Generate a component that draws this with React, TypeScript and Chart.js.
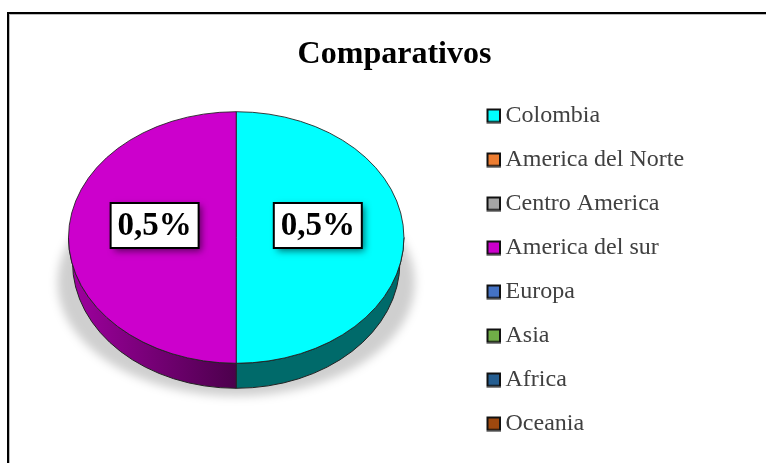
import React, { useEffect, useRef } from "react";
import { Chart, registerables } from "chart.js";

Chart.register(...registerables);

const titleText = "Comparativos";
const categories = ["Colombia", "America del Norte", "Centro America", "America del sur", "Europa", "Asia", "Africa", "Oceania"];
const shares = [0.5, 0, 0, 0.5, 0, 0, 0, 0];
const colors = ["#00FFFF", "#ED7D31", "#A5A5A5", "#CC00CC", "#4472C4", "#70AD47", "#255E91", "#9E480E"];

const SERIF = "'Liberation Serif', 'Times New Roman', serif";
const SQUASH = 0.75;
const DEPTH = 25;
const WALL_INSET = 4;

// Darker side wall of the 3D pie: gradient stops from left to right for each coloured slice
const wallStops: Record<string, [string, string]> = {
  "#00FFFF": ["#006A6A", "#006A6A"],
  "#CC00CC": ["#A000A0", "#4C004C"],
};

function legendSwatch(color: string) {
  const c = document.createElement("canvas");
  c.width = 18;
  c.height = 16;
  const g = c.getContext("2d")!;
  g.fillStyle = color;
  g.fillRect(3.5, 2, 12.5, 12.5);
  g.strokeStyle = "#111";
  g.lineWidth = 2;
  g.strokeRect(3.5, 2, 12.5, 12.5);
  return c;
}

const pie3d = {
  id: "pie3d",
  afterLayout(chart: any) {
    // Title sits lower and further right than the default; legend sits away from the pie
    const t = chart.titleBlock;
    t.top = 35.5;
    t.bottom = t.top + 38;
    t.left = 23;
    t.right = 766;
    const l = chart.legend;
    const h = l.bottom - l.top;
    l.top = 83.5;
    l.bottom = l.top + h + 60;
    const w = l.right - l.left;
    l.left = 472.5;
    l.right = l.left + w;
  },
  beforeDraw(chart: any) {
    const ctx = chart.ctx;
    ctx.save();
    ctx.fillStyle = "#000";
    ctx.fillRect(7, 12, 759, 2);
    ctx.fillRect(7, 12, 2, 451);
    ctx.fillStyle = "#BBB";
    ctx.fillRect(9, 14, 757, 1);
    ctx.fillRect(9, 14, 1, 449);
    ctx.restore();
  },
  beforeDatasetsDraw(chart: any) {
    const ctx = chart.ctx;
    const arcs = chart.getDatasetMeta(0).data;
    const { x: cx, y: cy, outerRadius: r } = arcs[0];
    const ry = r * SQUASH;

    // soft shadow
    ctx.save();
    ctx.filter = "blur(5px)";
    ctx.fillStyle = "rgba(0,0,0,0.19)";
    ctx.beginPath();
    ctx.ellipse(cx, cy + 45, r + 11, ry - 12, 0, 0, Math.PI * 2);
    ctx.fill();
    ctx.restore();

    // side wall
    arcs.forEach((arc: any, i: number) => {
      if (!(shares[i] > 0)) return;
      const a0 = Math.max(arc.startAngle, 0);
      const a1 = Math.min(arc.endAngle, Math.PI);
      if (a1 <= a0) return;
      const x0 = cx + r * Math.min(Math.cos(a0), Math.cos(a1));
      const x1 = cx + r * Math.max(Math.cos(a0), Math.cos(a1));
      const stops = wallStops[colors[i]];
      const grad = ctx.createLinearGradient(x0, 0, x1, 0);
      grad.addColorStop(0, stops[0]);
      grad.addColorStop(1, stops[1]);
      ctx.beginPath();
      ctx.ellipse(cx, cy, r, ry, 0, a0, a1);
      ctx.ellipse(cx, cy + DEPTH, r - WALL_INSET, ry, 0, a1, a0, true);
      ctx.closePath();
      ctx.fillStyle = grad;
      ctx.fill();
      ctx.strokeStyle = "#222";
      ctx.lineWidth = 1;
      ctx.stroke();
    });

    // squash the top face into an ellipse
    ctx.save();
    ctx.translate(cx, cy);
    ctx.scale(1, SQUASH);
    ctx.translate(-cx, -cy);
  },
  afterDatasetsDraw(chart: any) {
    const ctx = chart.ctx;
    ctx.restore();
    const arcs = chart.getDatasetMeta(0).data;
    const { x: cx, y: cy } = arcs[0];
    arcs.forEach((arc: any, i: number) => {
      if (!(shares[i] > 0)) return;
      const p = arc.getCenterPoint();
      const bx = cx + (p.x - cx) * 0.973;
      const by = cy - 12;
      const w = 88;
      const h = 45;
      ctx.save();
      ctx.shadowColor = "rgba(0,0,0,0.55)";
      ctx.shadowBlur = 7;
      ctx.shadowOffsetX = 3;
      ctx.shadowOffsetY = 3;
      ctx.fillStyle = "#fff";
      ctx.fillRect(bx - w / 2, by - h / 2, w, h);
      ctx.restore();
      ctx.save();
      ctx.strokeStyle = "#000";
      ctx.lineWidth = 2;
      ctx.strokeRect(bx - w / 2, by - h / 2, w, h);
      ctx.fillStyle = "#000";
      ctx.font = `bold 33px ${SERIF}`;
      ctx.textAlign = "center";
      ctx.textBaseline = "middle";
      ctx.fillText(`${String(shares[i]).replace(".", ",")}%`, bx, by + 1);
      ctx.restore();
    });
  },
};

export default function App() {
  const ref = useRef<HTMLCanvasElement>(null);
  useEffect(() => {
    const chart = new Chart(ref.current!, {
      type: "pie",
      data: {
        labels: categories,
        datasets: [
          {
            data: shares,
            backgroundColor: colors,
            borderColor: "#222",
            borderWidth: (c: any) => (shares[c.dataIndex] > 0 ? 1 : 0),
          },
        ],
      },
      options: {
        responsive: false,
        animation: false,
        layout: { padding: { left: 68, right: 140, top: 0, bottom: 26.4 } },
        plugins: {
          tooltip: { enabled: false },
          title: {
            display: true,
            text: titleText,
            color: "#000",
            font: { family: SERIF, size: 32, weight: "bold" },
            padding: 0,
          },
          legend: {
            position: "right",
            align: "start",
            labels: {
              color: "#404040",
              font: { family: SERIF, size: 24 },
              padding: 20,
              usePointStyle: true,
              pointStyleWidth: 1,
              boxHeight: 14,
              generateLabels(c: any) {
                const base = (Chart as any).overrides.doughnut.plugins.legend.labels.generateLabels(c);
                return base.map((item: any, i: number) => ({ ...item, pointStyle: legendSwatch(colors[i]) }));
              },
            },
          },
        },
      } as any,
      plugins: [pie3d],
    });
    return () => chart.destroy();
  }, []);
  return <canvas ref={ref} width={766} height={463} style={{ position: "fixed", left: 0, top: 0 }} />;
}
